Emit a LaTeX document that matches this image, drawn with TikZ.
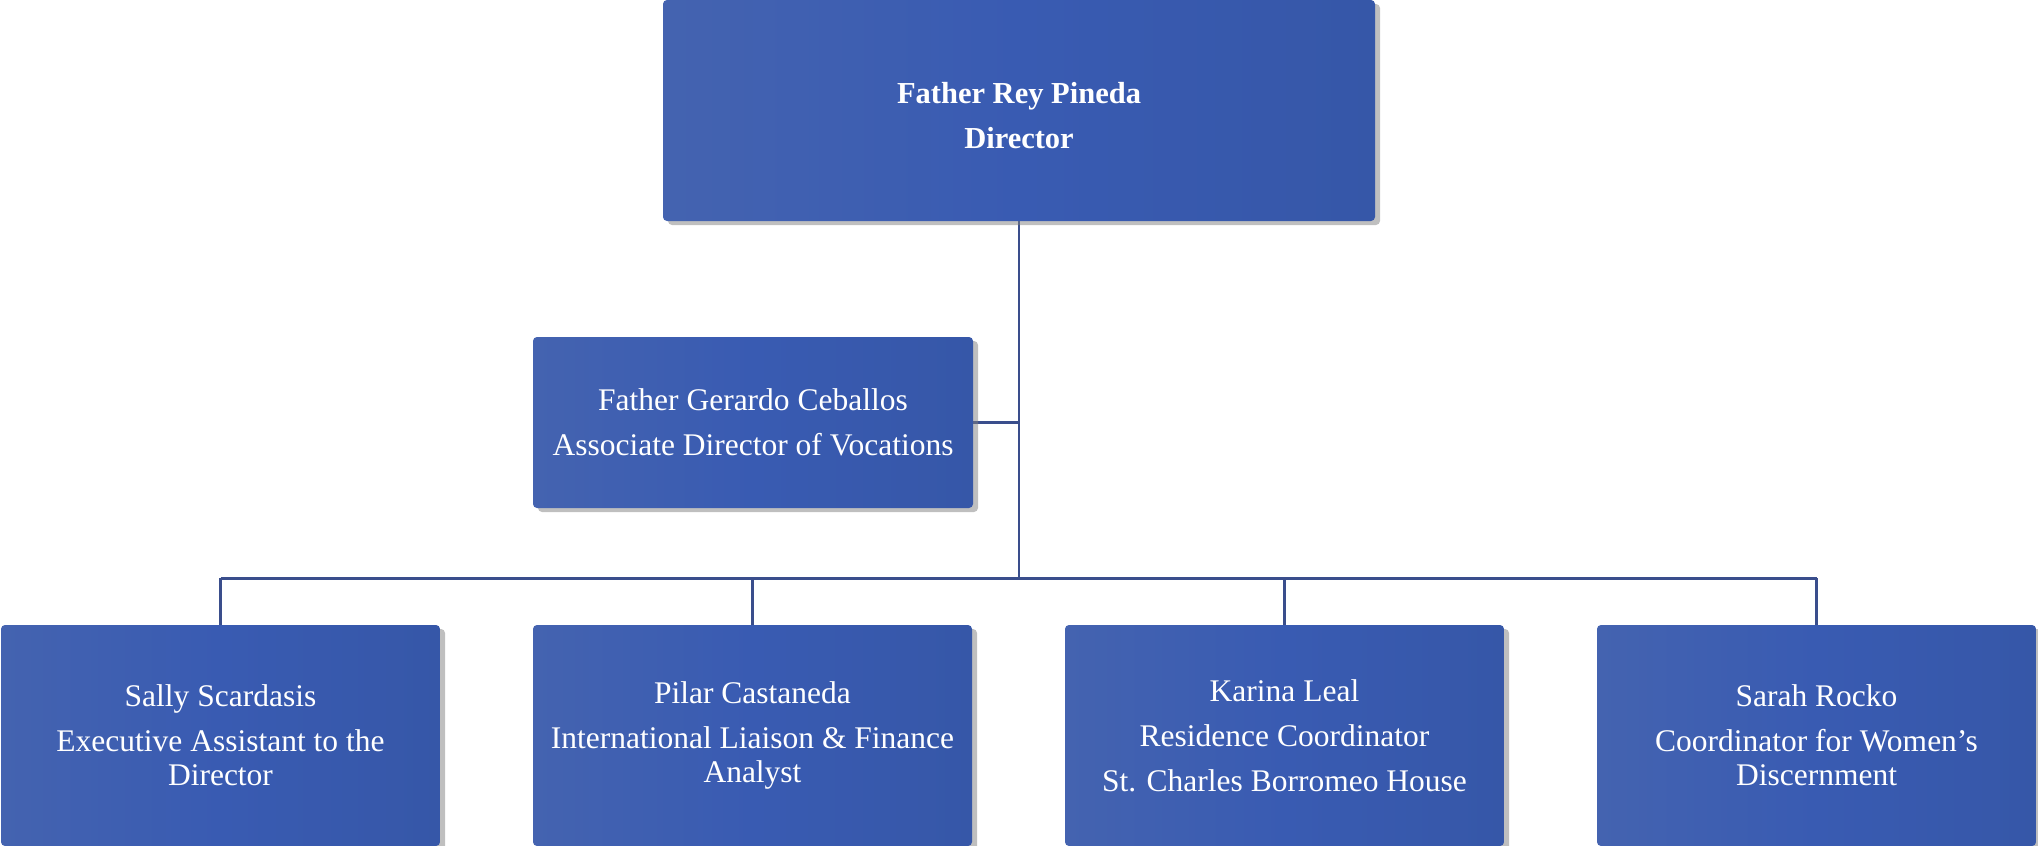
\documentclass[tikz,border=0pt]{standalone}
\usepackage{fontspec}
\setmainfont{Liberation Serif}
\usetikzlibrary{shadows,backgrounds}
\definecolor{boxL}{RGB}{68,99,176}
\definecolor{boxM}{RGB}{57,91,178}
\definecolor{boxR}{RGB}{54,87,168}
\definecolor{lineC}{RGB}{58,78,140}
\tikzset{
  orgbox/.style={rectangle, rounded corners=4pt, inner sep=0pt,
    left color=boxL, right color=boxR, middle color=boxM,
    text=white, align=center, minimum width=439pt, minimum height=221pt,
    drop shadow={shadow xshift=5pt, shadow yshift=-4pt, fill=black!50, opacity=0.5},
    font=\fontsize{31.5}{32}\selectfont},
  boxtext/.style={text=white, align=center, inner sep=0pt},
  conn/.style={draw=lineC, line width=2.8pt}
}
\begin{document}
\begin{tikzpicture}[x=1pt,y=-1pt]
\useasboundingbox (0,0) rectangle (2038,846);
\node[orgbox, minimum width=712pt, minimum height=221pt] (top) at (1019,110.5) {};
\node[boxtext, font=\fontsize{30.5}{32}\selectfont\bfseries] (toplabel) at ([yshift=-5pt]top.center)
  {Father Rey Pineda\\[13pt]Director};
\node[orgbox, minimum width=440pt, minimum height=171pt] (mid) at (753,422.5)
  {Father Gerardo Ceballos\\[13pt]Associate Director of Vocations};
\node[orgbox] (s1) at (220.5,735.5) {Sally Scardasis\\[13pt]Executive Assistant to the\\[2pt]Director};
\node[orgbox] (s2) at (752.5,735.5) {Pilar Castaneda\\[13pt]International Liaison \& Finance\\[2pt]Analyst};
\node[orgbox] (s3) at (1284.5,735.5) {Karina Leal\\[13pt]Residence Coordinator\\[13pt]St. Charles Borromeo House};
\node[orgbox] (s4) at (1816.5,735.5) {Sarah Rocko\\[13pt]Coordinator for Women’s\\[2pt]Discernment};
\coordinate (hub) at ([yshift=-357pt]top.south);
\begin{pgfonlayer}{background}
\fill[white] (0,0) rectangle (2038,846);
\draw[conn] (top.south) -- (hub);
\draw[conn] (mid.east) -- (mid.east -| hub);
\draw[conn] (s1.north |- hub) -- (s4.north |- hub);
\draw[conn] (s1.north |- hub) -- (s1.north);
\draw[conn] (s2.north |- hub) -- (s2.north);
\draw[conn] (s3.north |- hub) -- (s3.north);
\draw[conn] (s4.north |- hub) -- (s4.north);
\end{pgfonlayer}
\end{tikzpicture}
\end{document}
